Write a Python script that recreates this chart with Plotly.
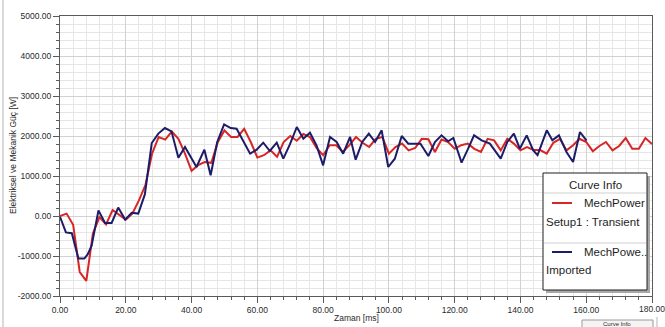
import plotly.graph_objects as go

# Transient simulation: mechanical power sampled every 2 ms
sim_time_ms = list(range(0, 181, 2))
sim_power_w = [
    0, 60, -220, -1400, -1620, -440, -30, -210, 150, 40,
    -90, 60, 390, 780, 1560, 1975, 1910, 2110, 1930, 1560,
    1130, 1270, 1350, 1330, 1850, 2140, 1975, 1975, 2180, 1850,
    1460, 1520, 1640, 1480, 1850, 2000, 1880, 2050, 1975, 1700,
    1520, 1770, 1770, 1600, 1770, 1975, 1830, 1725, 1930, 1975,
    1560, 1725, 1810, 1640, 1700, 1930, 1920, 1600, 1910, 1850,
    1680, 1770, 1810, 1680, 1600, 1930, 1890, 1640, 1930, 1810,
    1640, 1720, 1650, 1650, 1560, 1830, 1930, 1640, 1770, 1930,
    1850, 1620, 1750, 1850, 1640, 1750, 1950, 1680, 1680, 1950,
    1800,
]

# Imported (measured) mechanical power
imp_time_ms = [
    0, 1.8, 3.6, 5.6, 7.4, 8.4, 9.6, 11.7, 13.7, 15.7,
    17.7, 19.8, 21.8, 23.8, 25.8, 27.9, 29.9, 31.9, 33.9, 36,
    38, 41.5, 43.9, 45.8, 47.8, 49.9, 51.9, 53.7, 57.8, 59.8,
    61.8, 63.8, 65.9, 67.9, 69.9, 72, 74, 76, 78, 80,
    82.1, 84.1, 86.1, 88.2, 89.9, 91.9, 93.9, 95.8, 97.8, 99.8,
    101.8, 103.9, 105.9, 108, 109.6, 112, 114, 116, 118, 119.6,
    122.1, 124.1, 125.9, 128.2, 130.7, 134, 136, 138, 139.8, 141.9,
    143.9, 145.2, 148, 149.7, 151.7, 154, 156, 158.1, 160.1,
]
imp_power_w = [
    -20, -410, -430, -1065, -1065, -960, -750, 140, -175, -175,
    210, -90, 80, 60, 540, 1825, 2060, 2200, 2116, 1458,
    1725, 1225, 1658, 1016, 1850, 2291, 2200, 2183, 1558, 1658,
    1833, 1625, 1833, 1433, 1790, 2225, 1933, 2083, 1766, 1266,
    1975, 1850, 1558, 1975, 1408, 1850, 2058, 1850, 2141, 1225,
    1433, 2000, 1808, 1808, 1808, 1500, 1850, 2016, 1866, 1950,
    1333, 1683, 2016, 1891, 1808, 1433, 1850, 2058, 1683, 2016,
    1641, 1520, 2141, 1891, 2016, 1600, 1350, 2100, 1883,
]

x_ticks = [0, 20, 40, 60, 80, 100, 120, 140, 160, 180]
x_tick_labels = ["0.00", "20.00", "40.00", "60.00", "80.00", "100.00",
                 "120.00", "140.00", "160.00", "180.00"]
y_ticks = [-2000, -1000, 0, 1000, 2000, 3000, 4000, 5000]
y_tick_labels = ["-2000.00", "-1000.00", "0.00", "1000.00", "2000.00",
                 "3000.00", "4000.00", "5000.00"]

RED = "rgb(214,38,38)"
NAVY = "rgb(28,28,105)"
FONT = "Liberation Sans, Arial, sans-serif"
TICK_FONT = dict(family=FONT, size=8.5, color="#2a2a2a")

W, H = 665, 327
L, R, T, B = 60, 13, 16, 31
PW, PH = W - L - R, H - T - B


def px(x):
    return (x - L) / PW


def py(y):
    return (H - B - y) / PH


fig = go.Figure()
fig.add_trace(go.Scatter(x=sim_time_ms, y=sim_power_w, mode="lines",
                         line=dict(color=RED, width=2), showlegend=False))
fig.add_trace(go.Scatter(x=imp_time_ms, y=imp_power_w, mode="lines",
                         line=dict(color=NAVY, width=2), showlegend=False))

axis_common = dict(
    showline=True, linecolor="#5a5a5a", linewidth=1, mirror=True,
    ticks="outside", ticklen=6, tickcolor="#5a5a5a", tickwidth=1,
    showgrid=True, gridcolor="#d2d2d2", gridwidth=1, zeroline=False,
    tickfont=TICK_FONT,
)

# the last x label hangs past the plot edge, so it is placed as an
# annotation anchored to the axis instead of being auto-hidden
x_tick_text_drawn = x_tick_labels[:-1] + [""]

fig.update_xaxes(
    range=[0, 180], tickmode="array", tickvals=x_ticks, ticktext=x_tick_text_drawn,
    minor=dict(dtick=4, tick0=0, ticks="outside", ticklen=3, tickcolor="#5a5a5a",
               showgrid=True, gridcolor="#e6e6e6", gridwidth=1),
    **axis_common,
)
fig.update_yaxes(
    range=[-2000, 5000], tickmode="array", tickvals=y_ticks, ticktext=y_tick_labels,
    minor=dict(dtick=200, tick0=0, ticks="outside", ticklen=3, tickcolor="#5a5a5a",
               showgrid=True, gridcolor="#e6e6e6", gridwidth=1),
    **axis_common,
)

shapes = []
annotations = []

annotations.append(dict(text=x_tick_labels[-1], x=x_ticks[-1], xref="x",
                        y=py(309), yref="paper", showarrow=False,
                        xanchor="center", yanchor="middle", font=TICK_FONT))

# axis titles
annotations.append(dict(text="Zaman [ms]", x=px(356), y=py(318), xref="paper", yref="paper",
                        showarrow=False, xanchor="center", yanchor="middle",
                        font=dict(family=FONT, size=8.5, color="#2a2a2a")))
annotations.append(dict(text="Elektriksel ve Mekanik Güç [W]", x=px(13), y=py(156),
                        xref="paper", yref="paper", showarrow=False, textangle=-90,
                        xanchor="center", yanchor="middle",
                        font=dict(family=FONT, size=8.5, color="#2a2a2a")))

# "Curve Info" panel
bx0, bx1, by0, by1 = 543, 647, 173, 290
shapes.append(dict(type="rect", xref="paper", yref="paper",
                   x0=px(bx0 + 3), x1=px(bx1 + 3), y0=py(by0 + 3), y1=py(by1 + 3),
                   fillcolor="#a8a8a8", line=dict(width=0), layer="above"))
shapes.append(dict(type="rect", xref="paper", yref="paper",
                   x0=px(bx0), x1=px(bx1), y0=py(by0), y1=py(by1),
                   fillcolor="white", line=dict(color="#1e1e1e", width=1), layer="above"))
for sep_y in (193, 243):
    shapes.append(dict(type="line", xref="paper", yref="paper",
                       x0=px(bx0 + 1), x1=px(bx1 - 1), y0=py(sep_y), y1=py(sep_y),
                       line=dict(color="#cfcfcf", width=1), layer="above"))
shapes.append(dict(type="line", xref="paper", yref="paper",
                   x0=px(552), x1=px(572), y0=py(203), y1=py(203),
                   line=dict(color=RED, width=2), layer="above"))
shapes.append(dict(type="line", xref="paper", yref="paper",
                   x0=px(552), x1=px(572), y0=py(252), y1=py(252),
                   line=dict(color=NAVY, width=2), layer="above"))

legend_font = dict(family=FONT, size=11.5, color="#1e1e1e")
for text, x, y, anchor in [
    ("Curve Info", 595, 185, "center"),
    ("MechPower", 582, 203, "left"),
    ("Setup1 : Transient", 544, 222, "left"),
    ("MechPowe..", 582, 252, "left"),
    ("Imported", 544, 270, "left"),
]:
    annotations.append(dict(text=text, x=px(x), y=py(y), xref="paper", yref="paper",
                            showarrow=False, xanchor=anchor, yanchor="middle",
                            font=legend_font))

# window frame and the button at the bottom edge
shapes.append(dict(type="line", xref="paper", yref="paper",
                   x0=px(3), x1=px(3), y0=py(0), y1=py(327),
                   line=dict(color="#b4b4b4", width=1), layer="above"))
shapes.append(dict(type="rect", xref="paper", yref="paper",
                   x0=px(582), x1=px(653), y0=py(320), y1=py(330),
                   fillcolor="#f4f4f4", line=dict(color="#9a9a9a", width=1), layer="above"))
annotations.append(dict(text="Curve Info", x=px(617), y=py(323.5), xref="paper", yref="paper",
                        showarrow=False, xanchor="center", yanchor="middle",
                        font=dict(family=FONT, size=6, color="#2a2a2a")))
shapes.append(dict(type="line", xref="paper", yref="paper",
                   x0=px(657), x1=px(657), y0=py(317), y1=py(327),
                   line=dict(color="#b4b4b4", width=1), layer="above"))

fig.update_layout(
    width=W, height=H,
    margin=dict(l=L, r=R, t=T, b=B),
    paper_bgcolor="white", plot_bgcolor="white",
    shapes=shapes, annotations=annotations,
    showlegend=False,
    font=dict(family=FONT),
)

fig.write_html("out.html")
